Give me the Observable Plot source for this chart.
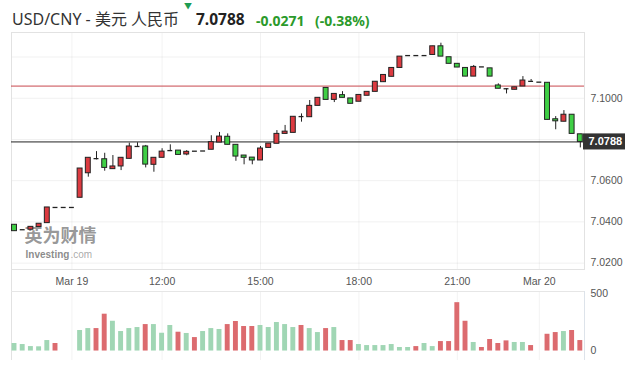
<!DOCTYPE html>
<html><head><meta charset="utf-8">
<script src="https://cdn.jsdelivr.net/npm/d3@7"></script>
<script src="https://cdn.jsdelivr.net/npm/@observablehq/plot@0.6"></script>
<style>
html,body{margin:0;padding:0;background:#fff;}
#wrap{position:relative;width:632px;height:378px;overflow:hidden;font-family:"Noto Sans","Noto Sans CJK SC",sans-serif;}
.h{position:absolute;white-space:nowrap;line-height:1;}
#price,#vol{position:absolute;left:0;}
#price{top:31px;} #vol{top:289px;}
</style></head><body>
<div id="wrap">
  <div class="h" id="title" style="left:12px;top:11px;font-size:16px;color:#333;"></div>
  <div class="h" style="left:184px;top:2px;font-size:8px;color:#1e9c52;">▼</div>
  <div class="h" id="last" style="left:196px;top:12px;font-size:15.5px;font-weight:bold;color:#222;"></div>
  <div class="h" id="chg" style="left:256px;top:13.5px;font-size:14px;font-weight:bold;color:#2b9a2b;"></div>
  <div class="h" id="pct" style="left:315px;top:13.5px;font-size:14px;font-weight:bold;color:#2b9a2b;"></div>
  <div id="price"></div>
  <div id="vol"></div>
</div>
<script>
// ---- data (15-minute candles, index-based time axis) ----
const titleText = "USD/CNY - 美元 人民币";
const prevClose = 7.1059;
const open  = [7.0386,7.0362,7.0362,7.0375,7.0394,7.0470,7.0470,7.0470,7.0517,7.0636,
               7.0707,7.0704,7.0656,7.0669,7.0706,7.0766,7.0766,7.0677,7.0711,7.0746,
               7.0746,7.0727,7.0743,7.0744,7.0750,7.0785,7.0813,7.0774,7.0722,7.0712,
               7.0698,7.0759,7.0779,7.0827,7.0832,7.0911,7.0908,7.0963,7.1050,7.0992,
               7.1015,7.0999,7.0983,7.1012,7.1031,7.1078,7.1104,7.1147,7.1207,7.1207,
               7.1207,7.1210,7.1252,7.1199,7.1167,7.1147,7.1105,7.1152,7.1145,7.1062,
               7.1046,7.1041,7.1057,7.1082,7.1078,7.1075,7.0898,7.0886,7.0920,7.0825];
const high  = [7.0386,7.0362,7.0376,7.0391,7.0470,7.0470,7.0470,7.0470,7.0659,7.0711,
               7.0741,7.0733,7.0722,7.0711,7.0782,7.0784,7.0771,7.0711,7.0755,7.0774,
               7.0746,7.0746,7.0743,7.0744,7.0818,7.0834,7.0827,7.0774,7.0722,7.0712,
               7.0766,7.0780,7.0843,7.0868,7.0910,7.0924,7.0989,7.1002,7.1050,7.1021,
               7.1032,7.0999,7.1016,7.1031,7.1080,7.1113,7.1147,7.1202,7.1207,7.1207,
               7.1207,7.1252,7.1267,7.1199,7.1167,7.1147,7.1159,7.1152,7.1145,7.1070,
               7.1046,7.1053,7.1105,7.1091,7.1078,7.1075,7.0911,7.0940,7.0920,7.0825];
const low   = [7.0355,7.0362,7.0362,7.0375,7.0394,7.0470,7.0470,7.0470,7.0517,7.0617,
               7.0701,7.0646,7.0656,7.0649,7.0706,7.0766,7.0662,7.0641,7.0711,7.0741,
               7.0725,7.0721,7.0743,7.0744,7.0750,7.0785,7.0774,7.0694,7.0677,7.0677,
               7.0698,7.0759,7.0779,7.0827,7.0832,7.0884,7.0908,7.0963,7.0992,7.0979,
               7.1002,7.0973,7.0983,7.1012,7.1031,7.1078,7.1104,7.1147,7.1207,7.1207,
               7.1207,7.1210,7.1202,7.1167,7.1149,7.1105,7.1105,7.1152,7.1105,7.1046,
               7.1021,7.1041,7.1057,7.1082,7.1078,7.0895,7.0847,7.0886,7.0827,7.0759];
const close = [7.0355,7.0362,7.0376,7.0391,7.0470,7.0470,7.0470,7.0470,7.0659,7.0711,
               7.0707,7.0662,7.0669,7.0711,7.0766,7.0766,7.0678,7.0711,7.0741,7.0746,
               7.0725,7.0740,7.0743,7.0744,7.0787,7.0814,7.0774,7.0717,7.0711,7.0698,
               7.0756,7.0780,7.0827,7.0838,7.0910,7.0911,7.0963,7.1002,7.0992,7.1021,
               7.1002,7.0973,7.1016,7.1031,7.1080,7.1113,7.1147,7.1202,7.1207,7.1207,
               7.1207,7.1252,7.1202,7.1167,7.1149,7.1105,7.1152,7.1152,7.1105,7.1046,
               7.1046,7.1053,7.1086,7.1082,7.1078,7.0895,7.0888,7.0920,7.0827,7.0788];
const volume = [66,57,39,37,92,66,0,0,180,197,
                197,323,261,171,197,206,232,232,156,224,
                165,154,118,171,197,189,232,259,215,215,
                224,206,250,232,206,224,197,162,197,206,
                92,92,57,48,48,48,57,31,31,39,
                66,39,83,83,424,261,75,31,101,66,
                89,75,75,48,0,147,162,171,180,92];
const volSide = ["g","g","g","g","g","r","g","g","g","g",
                 "r","r","g","g","g","g","r","g","g","g",
                 "r","g","r","g","g","g","r","r","r","r",
                 "g","g","g","g","g","r","g","g","r","g",
                 "r","r","g","g","g","g","g","g","g","r",
                 "g","g","r","r","r","r","g","r","r","r",
                 "r","g","g","r","g","r","r","g","r","r"];
const xTickIdx = [7, 18, 30, 42, 54, 64];
const xTickLabels = ["Mar 19", "12:00", "15:00", "18:00", "21:00", "Mar 20"];
const yTicks = [7.02, 7.04, 7.06, 7.10];
const yGrid = [7.02, 7.04, 7.06, 7.08, 7.10, 7.12];
const volTicks = [0, 500];
const watermark = ["英为财情", "Investing", ".com"];

// ---- header ----
const last = close[close.length - 1];
const chg = last - prevClose;
document.getElementById("title").textContent = titleText;
document.getElementById("last").textContent = last.toFixed(4);
document.getElementById("chg").textContent = chg.toFixed(4);
document.getElementById("pct").textContent = "(" + (chg / prevClose * 100).toFixed(2) + "%)";

// ---- table ----
const data = open.map((o, i) => ({i, o, h: high[i], l: low[i], c: close[i], v: volume[i], vs: volSide[i]}));
const bodies = data.filter(d => d.c !== d.o);
const flats = data.filter(d => d.c === d.o);
const xDomain = [-0.366, 69.51];
const halfW = 0.3;
const UP = "#dc3a40", DOWN = "#3fcf45", EDGE = "#222";
const font = "'Liberation Sans', Arial, sans-serif";

// width of the bold "Investing" word so ".com" follows it directly
const ctx = document.createElement("canvas").getContext("2d");
ctx.font = "bold 10px 'Liberation Sans', Arial, sans-serif";
const invW = ctx.measureText(watermark[1]).width;

const price = Plot.plot({
  width: 632, height: 258,
  marginTop: 1, marginBottom: 20, marginLeft: 11, marginRight: 48,
  style: {background: "transparent", fontFamily: font, fontSize: "10.5px", color: "#555", overflow: "visible"},
  x: {domain: xDomain, ticks: xTickIdx, tickFormat: d => xTickLabels[xTickIdx.indexOf(d)], tickSize: 0, tickPadding: 8, label: null},
  y: {domain: [7.0169, 7.1319], axis: "right", ticks: yTicks, tickFormat: d3.format(".4f"), tickSize: 0, tickPadding: 6, label: null},
  marks: [
    Plot.ruleY(yGrid, {stroke: "#000", strokeOpacity: 0.06}),
    Plot.ruleX(xTickIdx, {stroke: "#000", strokeOpacity: 0.05}),
    Plot.frame({stroke: "#e2e2e2"}),
    Plot.ruleX([xDomain[0]], {y1: 7.0072, y2: 7.0169, stroke: "#e2e2e2"}),
    Plot.text([watermark[0]], {frameAnchor: "bottom-left", dx: 13, dy: -28, textAnchor: "start", lineAnchor: "bottom",
      fontSize: 18, fontWeight: "bold", fill: "#7d7d7d", fillOpacity: 0.8, fontFamily: "'Noto Sans CJK SC', sans-serif"}),
    Plot.text([watermark[1]], {frameAnchor: "bottom-left", dx: 14, dy: -12, textAnchor: "start", lineAnchor: "bottom",
      fontSize: 10, fontWeight: "bold", fill: "#767676", fillOpacity: 0.85, fontFamily: font}),
    Plot.text([watermark[2]], {frameAnchor: "bottom-left", dx: 14 + invW + 1, dy: -12, textAnchor: "start", lineAnchor: "bottom",
      fontSize: 10, fill: "#9a9a9a", fillOpacity: 0.85, fontFamily: font}),
    Plot.ruleY([prevClose], {stroke: "#c9484e", strokeWidth: 1}),
    Plot.ruleY([last], {stroke: "#222", strokeWidth: 1}),
    Plot.ruleX(data, {x: "i", y1: "l", y2: "h", stroke: EDGE, strokeWidth: 1}),
    Plot.rect(bodies, {x1: d => d.i - halfW, x2: d => d.i + halfW, y1: "o", y2: "c",
      fill: d => d.c > d.o ? UP : DOWN, stroke: EDGE, strokeWidth: 1}),
    Plot.ruleY(flats, {y: "c", x1: d => d.i - halfW, x2: d => d.i + halfW, stroke: EDGE, strokeWidth: 1.3}),
    Plot.rect([last], {x1: () => xDomain[1] - 0.12, x2: () => xDomain[1] + 5, y1: d => d - 0.0039, y2: d => d + 0.0039, fill: "#333"}),
    Plot.text([last], {x: () => xDomain[1], y: d => d, dx: 4, text: d => d.toFixed(4), textAnchor: "start",
      fill: "white", fontWeight: "bold", fontSize: 11})
  ]
});
document.getElementById("price").appendChild(price);

const vol = Plot.plot({
  width: 632, height: 89,
  marginTop: 2, marginBottom: 18, marginLeft: 11, marginRight: 48,
  style: {background: "transparent", fontFamily: font, fontSize: "10.5px", color: "#555", overflow: "visible"},
  x: {domain: xDomain, axis: null},
  y: {domain: [-83, 522], axis: "right", ticks: volTicks, tickSize: 0, tickPadding: 6, tickFormat: d => String(d), label: null},
  marks: [
    Plot.ruleX(xTickIdx, {stroke: "#000", strokeOpacity: 0.05}),
    Plot.ruleX([xDomain[0]], {y1: -83, y2: 539, stroke: "#e2e2e2"}),
    Plot.ruleX([xDomain[1]], {stroke: "#dde3ea"}),
    Plot.ruleY([522], {stroke: "#e6e6e6"}),
    Plot.rect(data.filter(d => d.v > 0), {x1: d => d.i - halfW, x2: d => d.i + halfW, y1: 0, y2: "v",
      fill: d => d.vs === "r" ? "#dc6b6f" : "#a0d6b4"})
  ]
});
document.getElementById("vol").appendChild(vol);
</script>
</body></html>
